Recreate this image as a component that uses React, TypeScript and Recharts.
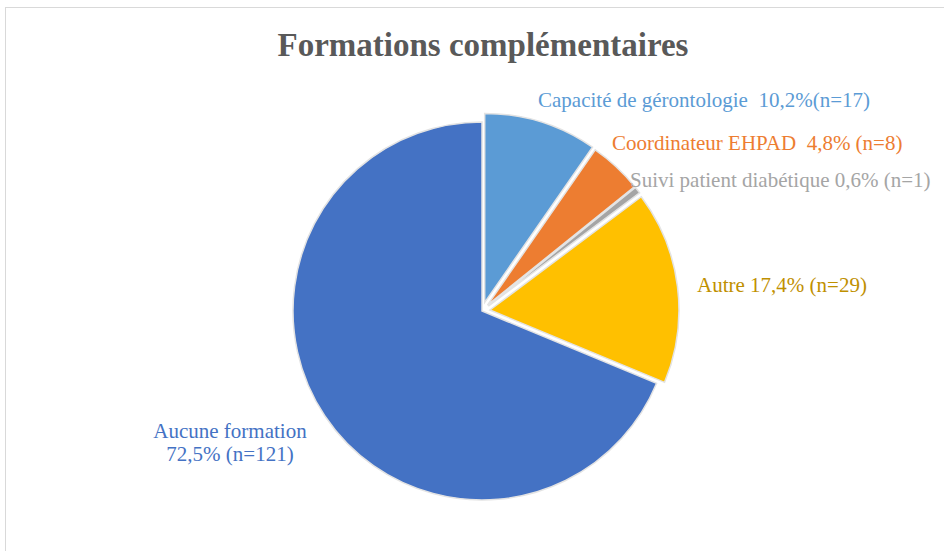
import { PieChart, Pie, Cell } from 'recharts';

const categories = [
  'Capacité de gérontologie',
  'Coordinateur EHPAD',
  'Suivi patient diabétique',
  'Autre',
  'Aucune formation',
];
const counts = [17, 8, 1, 29, 121];
const percentLabels = ['10,2%', '4,8%', '0,6%', '17,4%', '72,5%'];
const sliceColors = ['#5B9BD5', '#ED7D31', '#A5A5A5', '#FFC000', '#4472C4'];
const labelColors = ['#5B9BD5', '#ED7D31', '#A5A5A5', '#BF9000', '#4472C4'];

const data = categories.map((name, i) => ({ name, value: counts[i] }));

const W = 944;
const H = 551;
const CX = 482;
const CY = 311;
const R = 189;
const explode = [9, 8, 8, 8, 0];
const font = '"Liberation Serif", "Times New Roman", serif';

// label placement (text positions only)
const labelLayout = [
  { x: 538, y: 107, anchor: 'start', lines: [`${categories[0]}  ${percentLabels[0]}(n=${counts[0]})`] },
  { x: 612, y: 150, anchor: 'start', lines: [`${categories[1]}  ${percentLabels[1]} (n=${counts[1]})`] },
  { x: 630, y: 187, anchor: 'start', lines: [`${categories[2]} ${percentLabels[2]} (n=${counts[2]})`] },
  { x: 697, y: 292, anchor: 'start', lines: [`${categories[3]} ${percentLabels[3]} (n=${counts[3]})`] },
  { x: 230, y: 438, anchor: 'middle', lines: [categories[4], `${percentLabels[4]} (n=${counts[4]})`] },
];

const total = counts.reduce((a, b) => a + b, 0);
const offsets = (() => {
  let acc = 0;
  return counts.map((c, i) => {
    const mid = 90 - ((acc + c / 2) / total) * 360;
    acc += c;
    const rad = (mid * Math.PI) / 180;
    return { dx: explode[i] * Math.cos(rad), dy: -explode[i] * Math.sin(rad) };
  });
})();

function makeLabel(idx: number) {
  return (props: any) => {
    if (props.index !== idx) return null;
    const l = labelLayout[idx];
    return (
      <text
        key={`lbl-${idx}`}
        x={l.x}
        y={l.y}
        textAnchor={l.anchor as any}
        fill={labelColors[idx]}
        fontFamily={font}
        fontSize={21}
        style={{ whiteSpace: 'pre' }}
      >
        {l.lines.map((t, k) => (
          <tspan key={k} x={l.x} dy={k === 0 ? 0 : 23}>
            {t}
          </tspan>
        ))}
      </text>
    );
  };
}

export default function App() {
  return (
    <div style={{ position: 'absolute', left: 0, top: 0, width: W, height: H, background: '#fff', overflow: 'hidden' }}>
      <div
        style={{
          position: 'absolute',
          left: 5,
          top: 7,
          width: W,
          height: H,
          border: '1px solid #d9d9d9',
          boxSizing: 'border-box',
        }}
      />
      <PieChart
        width={W}
        height={H}
        margin={{ top: 0, right: 0, bottom: 0, left: 0 }}
        style={{ position: 'absolute', left: 0, top: 0 }}
      >
        <text
          x={483}
          y={56}
          textAnchor="middle"
          fontFamily={font}
          fontWeight="bold"
          fontSize={33}
          fill="#595959"
        >
          Formations complémentaires
        </text>
        {data.map((_, idx) => (
          <Pie
            key={idx}
            data={data}
            dataKey="value"
            nameKey="name"
            cx={CX + offsets[idx].dx}
            cy={CY + offsets[idx].dy}
            outerRadius={R}
            startAngle={90}
            endAngle={-270}
            isAnimationActive={false}
            labelLine={false}
            label={makeLabel(idx)}
          >
            {data.map((__, j) => (
              <Cell
                key={j}
                fill={j === idx ? sliceColors[j] : 'transparent'}
                stroke={j === idx ? '#e3e3e3' : 'none'}
                strokeWidth={1.5}
              />
            ))}
          </Pie>
        ))}
      </PieChart>
    </div>
  );
}
